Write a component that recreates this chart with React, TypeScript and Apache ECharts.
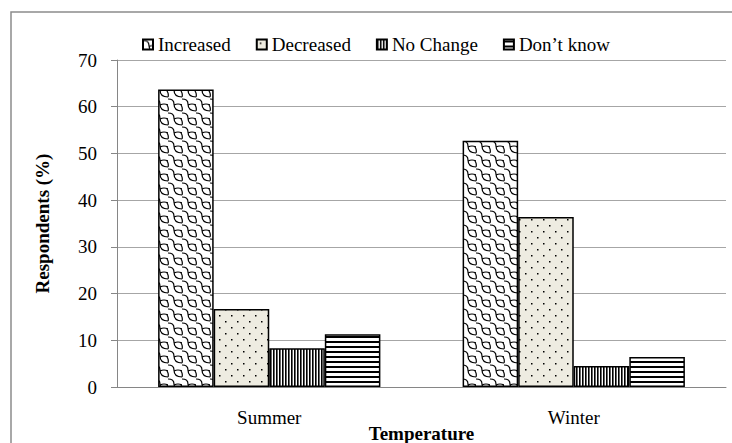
import React, { useEffect, useRef } from "react";
import * as echarts from "echarts";

const categories = ["Summer", "Winter"];
const seriesNames = ["Increased", "Decreased", "No Change", "Don\u2019t know"];
const increased = [63.7, 52.7];
const decreased = [16.7, 36.4];
const noChange = [8.3, 4.5];
const dontKnow = [11.3, 6.4];
const yTicks = [0, 10, 20, 30, 40, 50, 60, 70];

function makeCanvas(w: number, h: number, draw: (ctx: CanvasRenderingContext2D) => void) {
  const c = document.createElement("canvas");
  c.width = w;
  c.height = h;
  const ctx = c.getContext("2d")!;
  draw(ctx);
  return c;
}

function scalePattern() {
  return makeCanvas(14, 14, (ctx) => {
    ctx.fillStyle = "#fff";
    ctx.fillRect(0, 0, 14, 14);
    ctx.strokeStyle = "#000";
    ctx.lineWidth = 1.2;
    ctx.beginPath();
    ctx.moveTo(0, 1);
    ctx.quadraticCurveTo(6, 1, 6, 6);
    ctx.quadraticCurveTo(6, 13, 14, 13);
    ctx.stroke();
    ctx.beginPath();
    ctx.moveTo(6, 7);
    ctx.quadraticCurveTo(10, 5, 14, 7);
    ctx.stroke();
    ctx.beginPath();
    ctx.moveTo(-1, 7);
    ctx.quadraticCurveTo(1, 10, 0, 13);
    ctx.stroke();
    ctx.beginPath();
    ctx.moveTo(13, 7);
    ctx.quadraticCurveTo(15, 10, 14, 13);
    ctx.stroke();
  });
}

function dotPattern() {
  return makeCanvas(12, 12, (ctx) => {
    ctx.fillStyle = "#EEECE1";
    ctx.fillRect(0, 0, 12, 12);
    ctx.fillStyle = "#000";
    ctx.fillRect(3, 3, 1.5, 1.5);
    ctx.fillRect(9, 9, 1.5, 1.5);
  });
}

function vStripePattern() {
  return makeCanvas(3, 3, (ctx) => {
    ctx.fillStyle = "#fff";
    ctx.fillRect(0, 0, 3, 3);
    ctx.fillStyle = "#000";
    ctx.fillRect(0, 0, 1.6, 3);
  });
}

function hStripePattern() {
  return makeCanvas(5, 5, (ctx) => {
    ctx.fillStyle = "#fff";
    ctx.fillRect(0, 0, 5, 5);
    ctx.fillStyle = "#000";
    ctx.fillRect(0, 1, 5, 2);
  });
}

export default function App() {
  const ref = useRef<HTMLDivElement>(null);
  useEffect(() => {
    if (!ref.current) return;
    const chart = echarts.init(ref.current, undefined, { renderer: "svg" });
    const patterns = [scalePattern(), dotPattern(), vStripePattern(), hStripePattern()];
    const data = [increased, decreased, noChange, dontKnow];
    const font = "'Liberation Serif', 'Times New Roman', serif";
    chart.setOption({
      animation: false,
      backgroundColor: "#fff",
      textStyle: { fontFamily: font },
      graphic: [
        {
          type: "rect",
          shape: { x: 11, y: 12, width: 800, height: 600 },
          style: { fill: "none", stroke: "#8c8c8c", lineWidth: 1.5 },
          silent: true,
        },
      ],
      legend: {
        top: 30,
        left: 137,
        icon: "rect",
        itemWidth: 10,
        itemHeight: 10,
        itemGap: 25,
        textStyle: { fontFamily: font, fontSize: 19, color: "#000" },
        data: seriesNames,
      },
      grid: { left: 117, right: 6, top: 60, bottom: 56, outerBoundsMode: "none", containLabel: false },
      xAxis: {
        type: "category",
        data: categories,
        name: "Temperature",
        nameLocation: "middle",
        nameGap: 37,
        nameMoveOverlap: false,
        nameTextStyle: { fontFamily: font, fontSize: 19, fontWeight: "bold", color: "#000", verticalAlign: "top" },
        axisLine: { lineStyle: { color: "#868686", width: 1 } },
        axisTick: { show: false },
        axisLabel: { fontFamily: font, fontSize: 19, color: "#000", margin: 21 },
      },
      yAxis: {
        type: "value",
        min: 0,
        max: 70,
        interval: 10,
        name: "Respondents (%)",
        nameLocation: "middle",
        nameGap: 65,
        nameTextStyle: { fontFamily: font, fontSize: 19, fontWeight: "bold", color: "#000" },
        axisLine: { show: true, lineStyle: { color: "#868686", width: 1 } },
        axisTick: { show: true, length: 6, lineStyle: { color: "#868686" } },
        axisLabel: {
          fontFamily: font,
          fontSize: 19,
          color: "#000",
          margin: 20,
          formatter: (v: number) => (yTicks.includes(v) ? String(v) : ""),
        },
        splitLine: { lineStyle: { color: "#a6a6a6", width: 1 } },
      },
      series: seriesNames.map((name, i) => ({
        name,
        type: "bar",
        data: data[i],
        barGap: "0%",
        barCategoryGap: "27%",
        itemStyle: {
          color: { image: patterns[i], repeat: "repeat" },
          borderColor: "#000",
          borderWidth: 1.5,
        },
      })),
    });
    return () => chart.dispose();
  }, []);
  return <div ref={ref} style={{ width: 732, height: 443, position: "absolute", left: 0, top: 0 }} />;
}
